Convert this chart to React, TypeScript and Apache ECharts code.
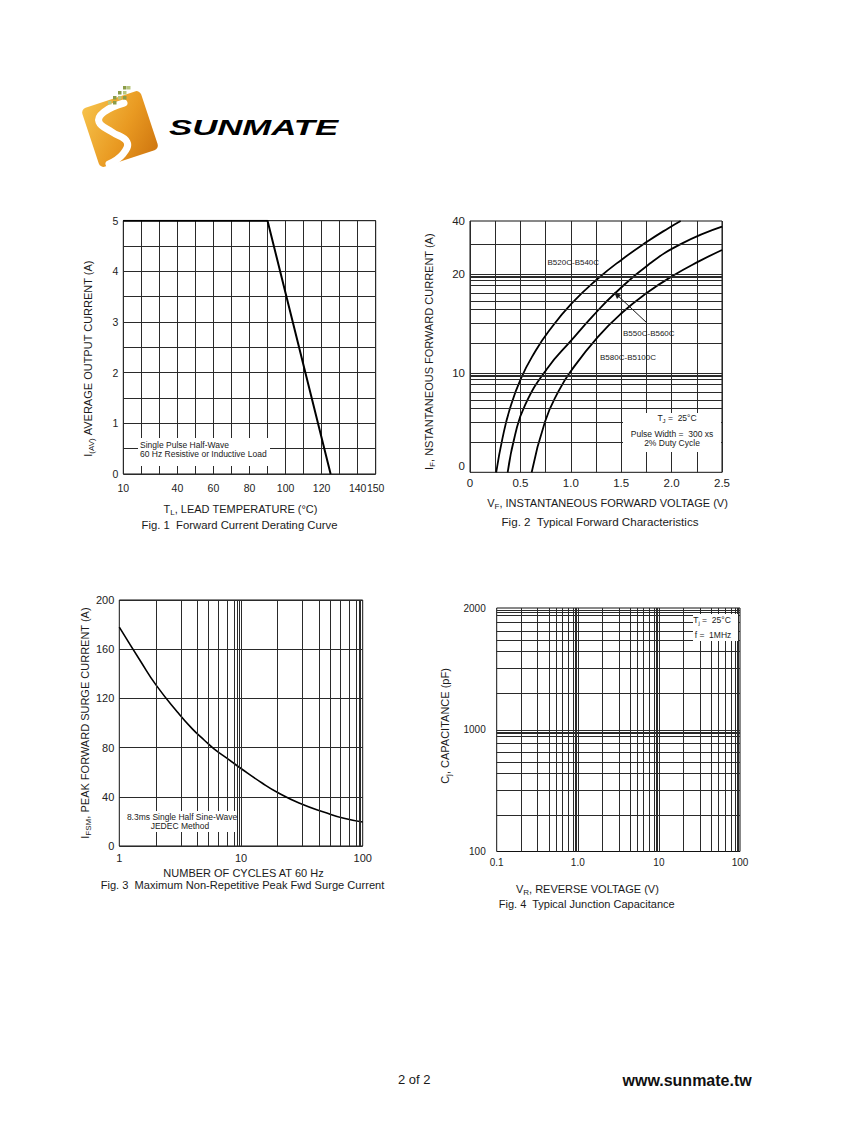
import React, { useEffect, useRef } from 'react';
import * as echarts from 'echarts';

const FONT = '"Liberation Sans", Arial, Helvetica, sans-serif';
const INK = '#1a1a1a';
const GRID = '#2a2a2a';

// ---------- Fig. 1 Forward Current Derating Curve ----------
const fig1Temperature = [10, 90, 125];
const fig1Current = [5, 5, 0];
const fig1XLabelValues = [10, 40, 60, 80, 100, 120, 140, 150];

// ---------- Fig. 2 Typical Forward Characteristics ----------
const fig2VoltageA = [0.26, 0.322, 0.397, 0.506, 0.645, 0.777, 1.009, 1.267, 1.511, 1.763, 1.968, 2.09];
const fig2CurrentA = [0.1, 0.22, 0.443, 0.89, 1.65, 2.63, 5.07, 9.01, 14.2, 21.5, 29.2, 34.5];
const fig2VoltageB = [0.374, 0.447, 0.546, 0.761, 1.009, 1.22, 1.439, 1.77, 2.1, 2.5];
const fig2CurrentB = [0.1, 0.238, 0.478, 1.1, 2.17, 3.8, 6.43, 12.5, 20.4, 30.3];
const fig2VoltageC = [0.612, 0.744, 0.876, 1.009, 1.267, 1.511, 1.763, 2.017, 2.265, 2.5];
const fig2CurrentC = [0.1, 0.324, 0.652, 1.08, 2.32, 4.11, 6.57, 9.71, 13.4, 17.6];
const fig2SeriesNames = ['B520C-B540C', 'B550C-B560C', 'B580C-B5100C'];
const fig2YTickValues = [0.116, 1, 10, 34.5];
const fig2YTickLabels = ['0', '10', '20', '40'];
const fig2YGridDecades = [0.1, 1];
const fig2YGridExtra = [1, 10, 20];

// ---------- Fig. 3 Peak Forward Surge Current ----------
const fig3Cycles = [1, 1.5, 2, 3, 4, 5, 6, 8, 10, 15, 20, 30, 50, 70, 100];
const fig3Surge = [178, 150, 131, 109, 95, 86, 79, 70, 63, 51, 43.5, 35, 27, 22.5, 19.5];
const fig3XGridDecades = [1, 10];
const fig3XGridExtra = [10];

// ---------- Fig. 4 Typical Junction Capacitance ----------
const fig4XGridDecades = [0.1, 1, 10];
const fig4XGridExtra = [1, 10];
const fig4YGridDecades = [100, 1000];
const fig4YGridExtra = [1000];
const fig4YTickValues = [100, 1000, 10000];
const fig4YTickLabels = ['100', '1000', '2000'];
const fig4XTickValues = [0.1, 1, 10, 100];
const fig4XTickLabels = ['0.1', '1.0', '10', '100'];

// grid subdivision used by the log-grid paper of this datasheet
const logGridFactors = [2, 3.2, 4.4, 5.4, 6.5, 7.7, 8.8, 9.3, 9.6];

function logGrid(decades: number[], extra: number[]): number[] {
  const out: number[] = [];
  decades.forEach((d) => logGridFactors.forEach((f) => out.push(d * f)));
  return out.concat(extra);
}

function pick(values: number[], labels: string[]) {
  return (v: number) => {
    const i = values.findIndex((t) => Math.abs(Math.log10(t) - Math.log10(v)) < 0.01);
    return i >= 0 ? labels[i] : '';
  };
}

function zip(xs: number[], ys: number[]) {
  return xs.map((x, i) => [x, ys[i]]);
}

const nameRich = (size: number) => ({
  n: { fontSize: size, lineHeight: size + 4, fontFamily: FONT, color: INK, verticalAlign: 'middle' },
  sub: { fontSize: Math.round(size * 0.72), lineHeight: Math.round(size * 0.72), fontFamily: FONT, color: INK, verticalAlign: 'bottom' },
});

const nameStyle = (padding: number[]) => ({
  fontSize: 11,
  lineHeight: 15,
  fontFamily: FONT,
  color: INK,
  padding,
  rich: nameRich(11),
});

const labelStyle = (size: number, margin: number) => ({
  fontSize: size,
  fontFamily: FONT,
  color: '#222',
  margin,
});

const gridMarkLine = (data: any[]) => ({
  silent: true,
  symbol: ['none', 'none'],
  label: { show: false },
  emphasis: { disabled: true },
  lineStyle: { color: GRID, width: 1, type: 'solid' },
  animation: false,
  data,
});

const splitOn = { show: true, lineStyle: { color: GRID, width: 1 } };
const noLine = { show: false };

function buildOption(): any {
  const gridBase = { show: true, borderColor: '#111', borderWidth: 1, backgroundColor: 'transparent', containLabel: false, outerBoundsMode: 'none' };

  const xAxis = [
    {
      gridIndex: 0,
      type: 'value',
      min: 10,
      max: 150,
      interval: 10,
      axisLine: noLine,
      axisTick: noLine,
      splitLine: splitOn,
      axisLabel: { ...labelStyle(10.5, 8), formatter: (v: number) => (fig1XLabelValues.includes(v) ? String(v) : '') },
      name: '{n|T}{sub|L}{n|, LEAD TEMPERATURE (°C)}',
      nameLocation: 'middle',
      nameGap: 27.5,
      nameTextStyle: nameStyle([0, 18, 0, 0]),
    },
    {
      gridIndex: 1,
      type: 'value',
      min: 0,
      max: 2.5,
      interval: 0.25,
      axisLine: noLine,
      axisTick: noLine,
      splitLine: splitOn,
      axisLabel: {
        ...labelStyle(11.5, 5),
        formatter: (v: number) => {
          const k = Math.round(v * 100);
          if (k % 50 !== 0) return '';
          return k === 0 ? '0' : v.toFixed(1);
        },
      },
      name: '{n|V}{sub|F}{n|, INSTANTANEOUS FORWARD VOLTAGE (V)}',
      nameLocation: 'middle',
      nameGap: 23,
      nameTextStyle: nameStyle([0, 0, 0, 23]),
    },
    {
      gridIndex: 2,
      type: 'log',
      logBase: 10,
      min: 1,
      max: 100,
      axisLine: noLine,
      axisTick: noLine,
      splitLine: noLine,
      minorSplitLine: noLine,
      axisLabel: { ...labelStyle(11, 6), formatter: (v: number) => String(Math.round(v)) },
      name: 'NUMBER OF CYCLES AT 60 Hz',
      nameLocation: 'middle',
      nameGap: 19,
      nameTextStyle: nameStyle([0, 0, 0, 5]),
    },
    {
      gridIndex: 3,
      type: 'log',
      logBase: 10,
      min: 0.1,
      max: 100,
      axisLine: noLine,
      axisTick: noLine,
      splitLine: noLine,
      axisLabel: { ...labelStyle(10, 6), formatter: pick(fig4XTickValues, fig4XTickLabels) },
      name: '{n|V}{sub|R}{n|, REVERSE VOLTAGE (V)}',
      nameLocation: 'middle',
      nameGap: 30,
      nameTextStyle: nameStyle([0, 62, 0, 0]),
    },
  ];

  const yAxis = [
    {
      gridIndex: 0,
      type: 'value',
      min: 0,
      max: 5,
      interval: 0.5,
      axisLine: noLine,
      axisTick: noLine,
      splitLine: splitOn,
      axisLabel: { ...labelStyle(10.5, 5), formatter: (v: number) => (Number.isInteger(v) ? String(v) : '') },
      name: '{n|I}{sub|(AV)}{n| AVERAGE OUTPUT CURRENT (A)}',
      nameLocation: 'middle',
      nameRotate: 90,
      nameGap: 27.5,
      nameTextStyle: nameStyle([0, 22, 0, 0]),
    },
    {
      gridIndex: 1,
      type: 'log',
      logBase: 10,
      min: 0.1,
      max: 34.5,
      axisLine: noLine,
      axisTick: noLine,
      splitLine: noLine,
      axisLabel: { ...labelStyle(11.5, 5), customValues: fig2YTickValues, formatter: pick(fig2YTickValues, fig2YTickLabels) },
      name: '{n|I}{sub|F}{n|, NSTANTANEOUS FORWARD CURRENT (A)}',
      nameLocation: 'middle',
      nameRotate: 90,
      nameGap: 34,
      nameTextStyle: nameStyle([0, 10, 0, 0]),
    },
    {
      gridIndex: 2,
      type: 'value',
      min: 0,
      max: 200,
      interval: 40,
      axisLine: noLine,
      axisTick: noLine,
      splitLine: splitOn,
      axisLabel: labelStyle(11, 5),
      name: '{n|I}{sub|FSM}{n|, PEAK FORWARD SURGE CURRENT (A)}',
      nameLocation: 'middle',
      nameRotate: 90,
      nameGap: 26,
      nameTextStyle: nameStyle([0, 0, 0, 0]),
    },
    {
      gridIndex: 3,
      type: 'log',
      logBase: 10,
      min: 100,
      max: 10000,
      axisLine: noLine,
      axisTick: noLine,
      splitLine: noLine,
      axisLabel: { ...labelStyle(10, 11), customValues: fig4YTickValues, formatter: pick(fig4YTickValues, fig4YTickLabels) },
      name: '{n|C}{sub|j}{n|, CAPACITANCE (pF)}',
      nameLocation: 'middle',
      nameRotate: 90,
      nameGap: 44,
      nameTextStyle: nameStyle([0, 0, 0, 7.5]),
    },
  ];

  const curve = (xi: number, data: number[][], width: number, smooth: boolean | number, name: string, extra: any = {}) => ({
    type: 'line',
    name,
    xAxisIndex: xi,
    yAxisIndex: xi,
    data,
    symbol: 'none',
    smooth,
    lineStyle: { color: '#000', width },
    silent: true,
    z: 3,
    ...extra,
  });

  const series = [
    curve(0, zip(fig1Temperature, fig1Current), 2, false, 'Derating'),
    curve(1, zip(fig2VoltageA, fig2CurrentA), 1.8, 0.5, fig2SeriesNames[0], {
      markLine: gridMarkLine(logGrid(fig2YGridDecades, fig2YGridExtra).map((v) => ({ yAxis: v }))),
    }),
    curve(1, zip(fig2VoltageB, fig2CurrentB), 1.8, 0.5, fig2SeriesNames[1]),
    curve(1, zip(fig2VoltageC, fig2CurrentC), 1.8, 0.5, fig2SeriesNames[2]),
    curve(2, zip(fig3Cycles, fig3Surge), 1.6, 0.5, 'Surge', {
      markLine: gridMarkLine(logGrid(fig3XGridDecades, fig3XGridExtra).map((v) => ({ xAxis: v }))),
    }),
    curve(3, [], 1, false, 'Capacitance grid', {
      markLine: gridMarkLine([
        ...logGrid(fig4XGridDecades, fig4XGridExtra).map((v) => ({ xAxis: v })),
        ...logGrid(fig4YGridDecades, fig4YGridExtra).map((v) => ({ yAxis: v })),
      ]),
    }),
  ];

  const txt = (text: string, x: number, y: number, size: number, align = 'left', extra: any = {}) => ({
    type: 'text',
    x,
    y,
    z: 20,
    silent: true,
    style: { text, fontSize: size, fontFamily: FONT, fill: INK, align, verticalAlign: 'middle', ...extra },
  });

  const subRich = (size: number) => ({
    a: { fontSize: size, lineHeight: size + 3, fontFamily: FONT, fill: INK, verticalAlign: 'middle' },
    s: { fontSize: size - 2.5, lineHeight: size - 2.5, fontFamily: FONT, fill: INK, verticalAlign: 'bottom' },
  });

  const whiteBox = (x: number, y: number, w: number, h: number) => ({
    type: 'rect',
    z: 15,
    silent: true,
    shape: { x, y, width: w, height: h },
    style: { fill: '#fff' },
  });

  const logoDots = [
    [123, 86], [127, 86], [118, 91], [123, 91], [113, 96], [118, 96], [123, 96], [108, 101], [113, 101],
  ];

  const graphic = [
    // --- logo ---
    {
      type: 'group',
      x: 120,
      y: 129,
      rotation: 0.32,
      silent: true,
      children: [
        {
          type: 'rect',
          shape: { x: -31, y: -31, width: 62, height: 62, r: 5 },
          style: {
            fill: new echarts.graphic.LinearGradient(0, 0, 1, 1, [
              { offset: 0, color: '#f6c24b' },
              { offset: 0.55, color: '#e99a22' },
              { offset: 1, color: '#cf760f' },
            ]),
          },
        },
      ],
    },
    {
      type: 'polyline',
      silent: true,
      shape: { points: [[124, 103], [104, 112], [99, 122], [112, 132], [127, 142], [123, 154], [109, 164]], smooth: 0.45 },
      style: { stroke: '#fff', lineWidth: 7, fill: null, lineCap: 'round' },
    },
    ...logoDots.map(([x, y], i) => ({
      type: 'rect',
      silent: true,
      shape: { x, y, width: 3.5, height: 3.5 },
      style: { fill: i % 2 ? '#b8c77f' : '#8b9c48' },
    })),
    {
      type: 'text',
      x: 169,
      y: 127,
      scaleX: 1.58,
      silent: true,
      style: {
        text: 'SUNMATE',
        fontSize: 22,
        fontStyle: 'italic',
        fontWeight: 900,
        fontFamily: FONT,
        fill: new echarts.graphic.LinearGradient(0, 0, 1, 0, [
          { offset: 0, color: '#111' },
          { offset: 0.8, color: '#222' },
          { offset: 1, color: '#7a6a55' },
        ]),
        align: 'left',
        verticalAlign: 'middle',
      },
    },

    // --- Fig 1 annotation ---
    whiteBox(138, 438, 132, 28),
    txt('Single Pulse Half-Wave', 140, 444.5, 8.5),
    txt('60 Hz Resistive or Inductive Load', 140, 454, 8.5),

    // --- Fig 2 labels ---
    txt(fig2SeriesNames[0], 547.5, 262.5, 8),
    txt(fig2SeriesNames[1], 623, 333, 8),
    txt(fig2SeriesNames[2], 600, 357.5, 8),
    {
      type: 'line',
      z: 20,
      silent: true,
      shape: { x1: 615, y1: 293, x2: 647, y2: 323 },
      style: { stroke: INK, lineWidth: 1 },
    },
    {
      type: 'polygon',
      z: 20,
      silent: true,
      shape: { points: [[614, 292], [621, 295], [617, 299]] },
      style: { fill: INK },
    },
    whiteBox(623, 413, 98, 39),
    {
      type: 'text',
      x: 677,
      y: 418,
      z: 20,
      silent: true,
      style: { text: '{a|T}{s|J}{a| =  25°C}', rich: subRich(8.5), align: 'center', verticalAlign: 'middle' },
    },
    txt('Pulse Width =  300 xs', 672, 433.5, 8.5, 'center'),
    txt('2% Duty Cycle', 672, 443, 8.5, 'center'),

    // --- Fig 3 annotation ---
    whiteBox(120, 811, 117, 21),
    txt('8.3ms Single Half Sine-Wave', 182, 816.5, 8.5, 'center'),
    txt('JEDEC Method', 180, 825.5, 8.5, 'center'),

    // --- Fig 4 annotation ---
    whiteBox(693, 614, 45, 27),
    {
      type: 'text',
      x: 712,
      y: 620,
      z: 20,
      silent: true,
      style: { text: '{a|T}{s|j}{a| =  25°C}', rich: subRich(8.5), align: 'center', verticalAlign: 'middle' },
    },
    txt('f =  1MHz', 713, 634.5, 8.5, 'center'),

    // --- captions ---
    txt('Fig. 1  Forward Current Derating Curve', 239.5, 525, 11.3, 'center'),
    txt('Fig. 2  Typical Forward Characteristics', 600, 521.7, 11.6, 'center'),
    txt('Fig. 3  Maximum Non-Repetitive Peak Fwd Surge Current', 242.5, 885, 11.1, 'center'),
    txt('Fig. 4  Typical Junction Capacitance', 586.7, 904.3, 11, 'center'),

    // --- footer ---
    txt('2 of 2', 398, 1079.3, 13),
    txt('www.sunmate.tw', 622.5, 1080, 16, 'left', { fontWeight: 'bold', fill: '#111' }),
  ];

  return {
    animation: false,
    backgroundColor: '#fff',
    textStyle: { fontFamily: FONT },
    grid: [
      { ...gridBase, left: 123.3, top: 220.7, width: 252.4, height: 253.3 },
      { ...gridBase, left: 470, top: 221, width: 252, height: 251.3 },
      { ...gridBase, left: 119.3, top: 600, width: 243.4, height: 246 },
      { ...gridBase, left: 496.7, top: 608, width: 243.3, height: 243.5 },
    ],
    xAxis,
    yAxis,
    series,
    graphic,
  };
}

export default function App() {
  const ref = useRef<HTMLDivElement>(null);
  useEffect(() => {
    if (!ref.current) return;
    const chart = echarts.init(ref.current, null, { renderer: 'svg' });
    chart.setOption(buildOption());
    return () => chart.dispose();
  }, []);
  return <div ref={ref} style={{ position: 'absolute', left: 0, top: 0, width: 847, height: 1125 }} />;
}
